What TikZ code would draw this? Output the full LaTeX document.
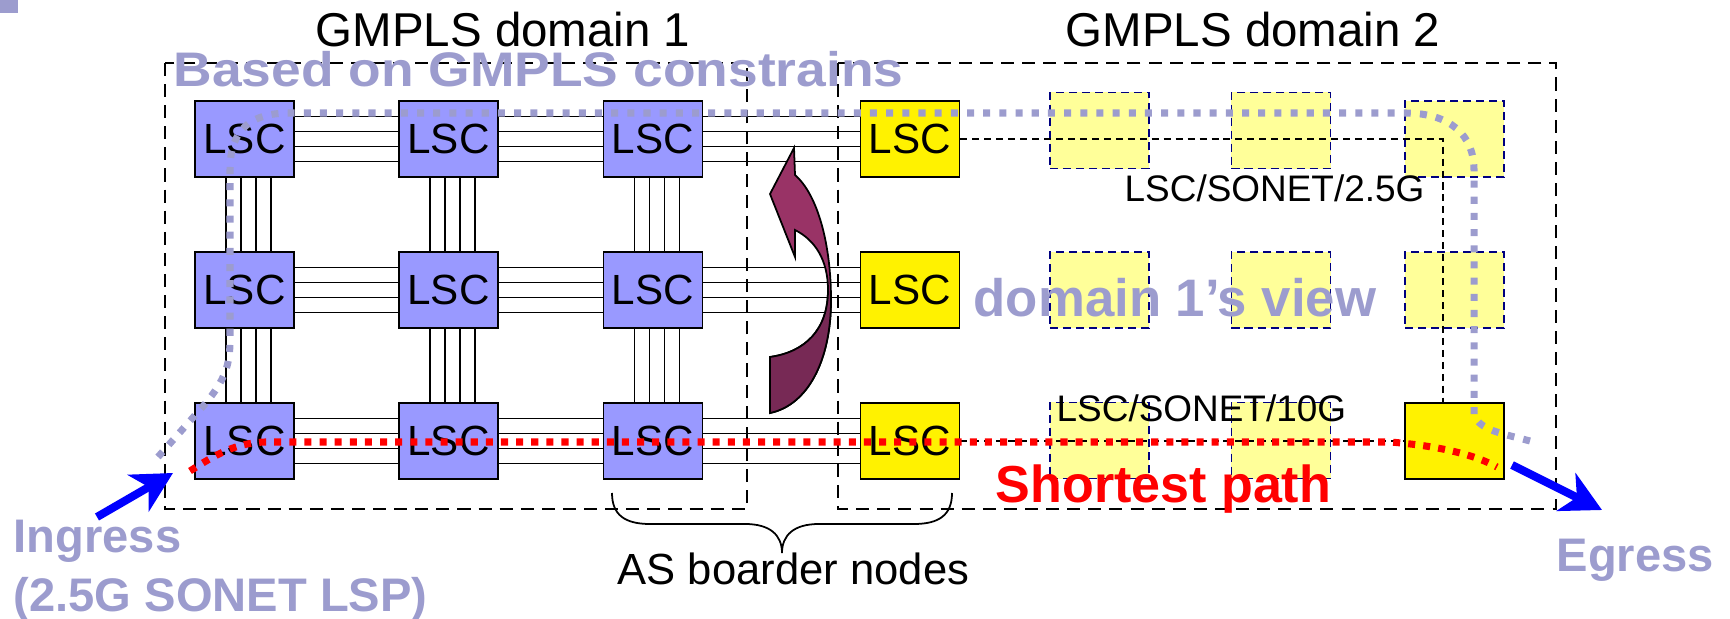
\documentclass[tikz,border=0pt]{standalone}
\usepackage{fontspec}
\setmainfont{Liberation Sans}
\usetikzlibrary{arrows.meta}

\definecolor{lscblue}{HTML}{9999FF}
\definecolor{viewblue}{HTML}{9C9CCE}
\definecolor{paleyellow}{HTML}{FFFF99}
\definecolor{navyline}{HTML}{000080}
\definecolor{arrowfront}{HTML}{993366}
\definecolor{arrowback}{HTML}{772955}

% outline of the curved arrow between the domains
\newcommand{\ribbon}{(794,148) -- (795,175) .. controls (818,195) and (831,245) .. (831,300)
  .. controls (831,360) and (808,405) .. (770,413) -- (770,357)
  .. controls (805,352) and (828,330) .. (828,290) .. controls (828,260) and (815,240) .. (795,230)
  -- (795,257) -- (770,194) -- cycle}

\tikzset{
  lsc/.style={draw, line width=0.5pt, fill=lscblue, minimum width=0.99cm, minimum height=0.76cm,
    inner sep=0pt, font=\fontsize{12}{14}\selectfont},
  asnode/.style={lsc, fill=yellow},
  virt/.style={draw=navyline, line width=0.4pt, dash pattern=on 2.3pt off 1.4pt, fill=paleyellow,
    minimum width=0.99cm, minimum height=0.76cm, inner sep=0pt},
  fibre/.style={line width=0.4pt},
  vlink/.style={line width=0.35pt, dash pattern=on 2pt off 1.4pt},
  domainbox/.style={line width=0.6pt, dash pattern=on 3.7pt off 2.3pt},
  heading/.style={font=\fontsize{13.5}{16}\selectfont, inner sep=0pt, anchor=base west},
  sonet/.style={font=\fontsize{10.5}{12}\selectfont, inner sep=0pt, anchor=base west},
  bigtag/.style={text=viewblue, font=\bfseries\fontsize{15}{18}\selectfont, inner sep=0pt, anchor=base west},
  endtag/.style={bigtag, font=\bfseries\fontsize{13.4}{16}\selectfont},
  viewpath/.style={viewblue, line width=2pt, dash pattern=on 2pt off 2.6pt},
  shortpath/.style={red, line width=2pt, dash pattern=on 2pt off 2.3pt},
  flow/.style={blue, line width=2.3pt, -{Stealth[length=4mm,width=4.2mm,inset=1.2mm]}}
}

\begin{document}
\begin{tikzpicture}[x=0.01cm,y=-0.01cm]
\useasboundingbox (0,0) rectangle (1730,619);
\fill[viewblue] (0,0) rectangle (18,13);

% Domains
\draw[domainbox] (165,63) rectangle (747,509);
\draw[domainbox] (838,63) rectangle (1556,509);
\node[heading] (title1) at (315,47) {GMPLS domain 1};
\node[heading] (title2) at (1065,47) {GMPLS domain 2};

% Domain 1 grid and border nodes
\foreach \r/\y in {1/139,2/290,3/441}{
  \foreach \c/\x in {1/244.5,2/448.5,3/653}
    \node[lsc] (n\r\c) at (\x,\y) {LSC};
  \node[asnode] (b\r) at (910,\y) {LSC};
}

% Domain 2 as domain 1 sees it
\node[virt] (v1a) at (1099.5,130.5) {};
\node[virt] (v1b) at (1281,130.5) {};
\node[virt] (v1c) at (1454.5,139) {};
\node[virt] (v2a) at (1099.5,290) {};
\node[virt] (v2b) at (1281,290) {};
\node[virt] (v2c) at (1454.5,290) {};
\node[virt] (v3a) at (1099.5,440.5) {};
\node[virt] (v3b) at (1281,440.5) {};
\node[asnode] (e3) at (1454.5,441) {};

% Fibre bundles
\foreach \r in {1,2,3}{
  \foreach \d in {-2.25,-0.75,0.75,2.25}{
    \draw[fibre] ([yshift=\d mm]n\r1.east) -- ([yshift=\d mm]n\r2.west);
    \draw[fibre] ([yshift=\d mm]n\r2.east) -- ([yshift=\d mm]n\r3.west);
    \draw[fibre] ([yshift=\d mm]n\r3.east) -- ([yshift=\d mm]b\r.west);
  }
}
\foreach \c in {1,2,3}{
  \foreach \d in {-1.85,-0.35,1.15,2.65}{
    \draw[fibre] ([xshift=\d mm]n1\c.south) -- ([xshift=\d mm]n2\c.north);
    \draw[fibre] ([xshift=\d mm]n2\c.south) -- ([xshift=\d mm]n3\c.north);
  }
}

% Abstract links in domain 2
\coordinate (turn) at (1443,139);
\draw[vlink] (b1.east) -- (turn) -- (turn |- e3.north);
\draw[vlink] (b3.east) -- (e3.west);

% Curved arrow
\filldraw[fill=arrowfront, line width=0.5pt] \ribbon;
\begin{scope}
  \clip (700,292) rectangle (860,420);
  \filldraw[fill=arrowback, line width=0.5pt] \ribbon;
\end{scope}

% AS border brace
\draw[line width=0.5pt] (612,493) .. controls (612,515) and (625,524) .. (650,524) -- (745,524)
  .. controls (770,524) and (782,535) .. (782,553) .. controls (782,535) and (794,524) .. (819,524)
  -- (914,524) .. controls (939,524) and (952,515) .. (952,493);
\node[heading, font=\fontsize{12.4}{14}\selectfont] (asnodes) at (617,585) {AS boarder nodes};

% Labels
\node[sonet] (slow) at (1124,202) {LSC/SONET/2.5G};
\node[sonet] (fast) at (1056,422) {LSC/SONET/10G};
\node[bigtag, font=\bfseries\fontsize{13.8}{16}\selectfont] (constraint) at (173,87)
  {\scalebox{1.1}[1]{Based on GMPLS constrains}};
\node[bigtag] (view) at (973,317) {domain 1’s view};
\node[bigtag, text=red, font=\bfseries\fontsize{14.8}{18}\selectfont] (shortest) at (995,503) {Shortest path};
\node[endtag] (ingresstag) at (13,553) {Ingress};
\node[endtag] (lsptag) at (13,612) {(2.5G SONET LSP)};
\node[endtag] (egresstag) at (1556,572) {Egress};

% Paths
\coordinate (cstart) at (158,457);
\coordinate (cend) at (1530,441);
\draw[viewpath] (cstart) -- (205,404) .. controls (225,380) and (230,365) .. (230,340) -- (230,170)
  .. controls (230,130) and (250,113) .. (290,113) -- (1405,113)
  .. controls (1450,113) and (1474,135) .. (1474,170) -- (1474,415)
  .. controls (1480,430) and (1500,433) .. (cend);
\coordinate (sstart) at (190,471);
\coordinate (send) at (1497,467);
\draw[shortpath] (sstart) .. controls (215,455) and (235,443) .. (265,442) -- (1390,442)
  .. controls (1440,446) and (1475,455) .. (send);

% Ingress / egress
\coordinate (inTail) at (97,517);
\coordinate (inTip) at (173,473);
\coordinate (outTail) at (1512,465);
\coordinate (outTip) at (1602,510);
\draw[flow] (inTail) -- (inTip);
\draw[flow] (outTail) -- (outTip);
\end{tikzpicture}
\end{document}
